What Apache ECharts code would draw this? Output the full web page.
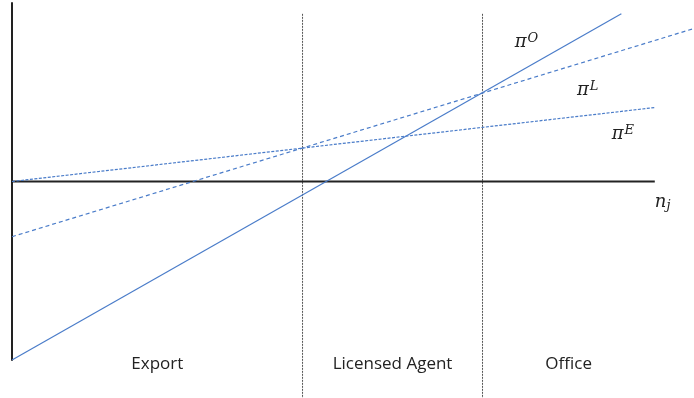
<!DOCTYPE html>
<html>
<head>
<meta charset="utf-8">
<script src="https://cdn.jsdelivr.net/npm/echarts@6/dist/echarts.min.js"></script>
<style>
  html, body { margin: 0; padding: 0; background: #fff; }
  #chart { width: 694px; height: 398px; }
</style>
</head>
<body>
<div id="chart"></div>
<script>
  // profit lines (n_j on x, profit on y)
  const officeLine = [[0, -28], [94.8, 26.3]]
  const agentLine = [[0, -8.66], [106.1, 24.0]]
  const exportLine = [[0, 0], [100, 11.6]]
  const horizontalAxis = [[0, 0], [100, 0]]

  // regime boundaries
  const dividers = [45.2, 73.2]
  const dividerTop = 26.3
  const dividerBottom = -34

  const regions = ['Export', 'Licensed Agent', 'Office']
  const regionCenters = [22.6, 59.2, 86.6]
  const regionY = -28.6

  // curve labels: base, index, x, y, kind
  const curveLabels = [
    ['π', 'O', 78.2, 21.9, 'sup'],
    ['π', 'L', 87.9, 14.3, 'sup'],
    ['π', 'E', 93.3, 7.4, 'sup'],
    ['n', 'j', 100, -3.3, 'sub']
  ]

  const blue = '#4a7cc9'

  const chart = echarts.init(document.getElementById('chart'))

  const dividerSeries = dividers.map(x => ({
    type: 'line',
    data: [[x, dividerTop], [x, dividerBottom]],
    symbol: 'none',
    clip: false,
    silent: true,
    lineStyle: { color: '#555', width: 1, type: [2, 1] }
  }))

  chart.setOption({
    animation: false,
    grid: { left: 12, right: 0, top: 3, bottom: 38 },
    xAxis: {
      type: 'value',
      min: 0,
      max: 106.1,
      axisLine: { show: false },
      axisTick: { show: false },
      axisLabel: { show: false },
      splitLine: { show: false }
    },
    yAxis: {
      type: 'value',
      min: -28,
      max: 28,
      axisLine: { show: true, lineStyle: { color: '#222', width: 2 } },
      axisTick: { show: false },
      axisLabel: { show: false },
      splitLine: { show: false }
    },
    series: [
      ...dividerSeries,
      {
        type: 'line',
        data: horizontalAxis,
        symbol: 'none',
        silent: true,
        lineStyle: { color: '#222', width: 2 }
      },
      {
        type: 'line',
        data: exportLine,
        symbol: 'none',
        clip: false,
        lineStyle: { color: blue, width: 1.2, type: [3, 1.5] }
      },
      {
        type: 'line',
        data: agentLine,
        symbol: 'none',
        clip: false,
        lineStyle: { color: blue, width: 1.2, type: [4, 3] }
      },
      {
        type: 'line',
        data: officeLine,
        symbol: 'none',
        clip: false,
        lineStyle: { color: blue, width: 1.2 }
      }
    ]
  })

  // texts placed through the axes' scales
  const graphics = []
  regions.forEach((name, i) => {
    const p = chart.convertToPixel({ gridIndex: 0 }, [regionCenters[i], regionY])
    graphics.push({
      type: 'text',
      x: p[0],
      y: p[1],
      style: {
        text: name,
        fill: '#222',
        font: '17px "Open Sans", sans-serif',
        align: 'center',
        verticalAlign: 'middle'
      }
    })
  })
  curveLabels.forEach(([base, idx, x, y, kind]) => {
    const p = chart.convertToPixel({ gridIndex: 0 }, [x, y])
    graphics.push({
      type: 'text',
      x: p[0],
      y: p[1],
      style: {
        text: '{a|' + base + '}{b|' + idx + '}',
        align: 'left',
        verticalAlign: 'middle',
        rich: {
          a: { font: 'italic 18px "DejaVu Serif", serif', fill: '#222', lineHeight: 20, verticalAlign: 'middle' },
          b: {
            font: 'italic 13px "DejaVu Serif", serif',
            fill: '#222',
            lineHeight: 20,
            verticalAlign: kind === 'sup' ? 'top' : 'bottom',
            padding: kind === 'sup' ? [0, 0, 0, 1] : [4, 0, 0, 0]
          }
        }
      }
    })
  })
  chart.setOption({ graphic: graphics })
</script>
</body>
</html>
